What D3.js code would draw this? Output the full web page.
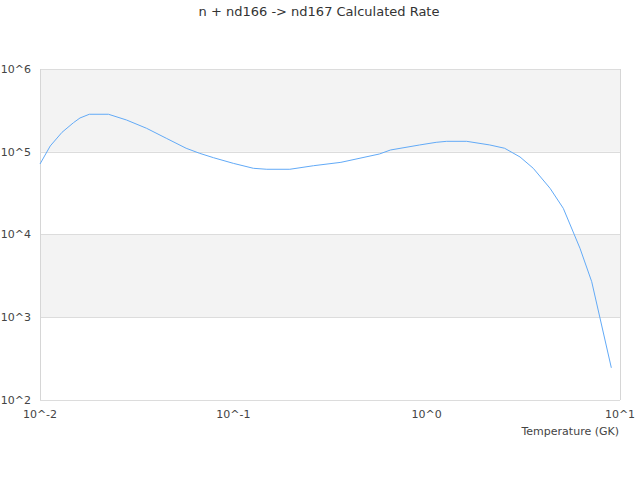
<!DOCTYPE html>
<html>
<head>
<meta charset="utf-8">
<script src="https://cdn.jsdelivr.net/npm/d3@7"></script>
<style>
body { margin: 0; background: #fff; }
text { font-family: "DejaVu Sans", sans-serif; }
</style>
</head>
<body>
<div class="chart"></div>
<script>
const title = 'n + nd166 -> nd167 Calculated Rate'
const xTitle = 'Temperature (GK)'

// temperature (GK)
const temps = [0.01, 0.0113, 0.013, 0.0149, 0.0161, 0.018, 0.0226, 0.028, 0.0356, 0.045,
  0.057, 0.067, 0.079, 0.1, 0.127, 0.149, 0.196, 0.26, 0.36, 0.57,
  0.65, 0.92, 1.12, 1.27, 1.61, 2.12, 2.53, 3.04, 3.56, 4.35,
  5.09, 6.21, 7.14, 9.02]
// rate values
const rates = [71100, 117500, 171800, 224400, 255900, 283800, 283800, 242100, 191900, 145500,
  110200, 95700, 84700, 72400, 63100, 61400, 61400, 67800, 74500, 94000,
  105000, 120800, 130000, 133700, 133700, 120800, 110200, 86500, 63100, 36100,
  20700, 6810, 2690, 245]

const xTicks = [0.01, 0.1, 1, 10]
const xTickLabels = ['10^-2', '10^-1', '10^0', '10^1']
const yTicks = [100, 1000, 10000, 100000, 1000000]
const yTickLabels = ['10^2', '10^3', '10^4', '10^5', '10^6']

const data = temps.map((t, i) => ({t: t, r: rates[i]}))

const margin = ({top: 69, right: 20, bottom: 80, left: 40})
const W = 640, H = 480
const width = W - margin.left - margin.right,
height = H - margin.top - margin.bottom;

const svg = d3.select('.chart').append('svg')
    .attr('width', W)
    .attr('height', H)

svg.append('text')
    .text(title)
    .attr('x', 319)
    .attr('y', 16)
    .attr('text-anchor', 'middle')
    .attr('font-size', 13)
    .attr('fill', '#333')

const g = svg.append('g')
    .attr('transform', `translate(${margin.left},${margin.top})`)

const x = d3.scaleLog().domain([0.01, 10]).range([0, width])
const y = d3.scaleLog().domain([100, 1000000]).range([height, 0])

// alternating bands
const bands = [[1000, 10000], [100000, 1000000]]
g.selectAll('.band')
    .data(bands)
    .enter()
    .append('rect')
    .attr('class', 'band')
    .attr('x', 0)
    .attr('width', width)
    .attr('y', d => y(d[1]))
    .attr('height', d => y(d[0]) - y(d[1]))
    .attr('fill', '#f3f3f3')

// horizontal grid
g.selectAll('.grid')
    .data(yTicks)
    .enter()
    .append('line')
    .attr('class', 'grid')
    .attr('x1', 0)
    .attr('x2', width)
    .attr('y1', d => Math.round(y(d)) + 0.5)
    .attr('y2', d => Math.round(y(d)) + 0.5)
    .attr('stroke', '#dcdcdc')

// frame left/right
g.append('line').attr('x1', 0.5).attr('x2', 0.5).attr('y1', 0).attr('y2', height)
    .attr('stroke', '#d6d6d6')
g.append('line').attr('x1', width + 0.5).attr('x2', width + 0.5).attr('y1', 0).attr('y2', height)
    .attr('stroke', '#d6d6d6')

const line = d3.line()
    .x(d => x(d.t))
    .y(d => y(d.r))

g.append('path')
    .datum(data)
    .attr('d', line)
    .attr('fill', 'none')
    .attr('stroke', '#62aaf7')
    .attr('stroke-width', 1)

// y tick labels
g.selectAll('.ylab')
    .data(yTicks)
    .enter()
    .append('text')
    .attr('class', 'ylab')
    .text((d, i) => yTickLabels[i])
    .attr('x', -9)
    .attr('y', d => y(d))
    .attr('dy', '0.35em')
    .attr('text-anchor', 'end')
    .attr('font-size', 11)
    .attr('fill', '#444')

// x tick labels
g.selectAll('.xlab')
    .data(xTicks)
    .enter()
    .append('text')
    .attr('class', 'xlab')
    .text((d, i) => xTickLabels[i])
    .attr('x', d => x(d))
    .attr('y', height + 14)
    .attr('dy', '0.35em')
    .attr('text-anchor', 'middle')
    .attr('font-size', 11)
    .attr('fill', '#444')

g.append('text')
    .text(xTitle)
    .attr('x', width - 1)
    .attr('y', height + 31)
    .attr('dy', '0.35em')
    .attr('text-anchor', 'end')
    .attr('font-size', 11)
    .attr('fill', '#444')
</script>
</body>
</html>
